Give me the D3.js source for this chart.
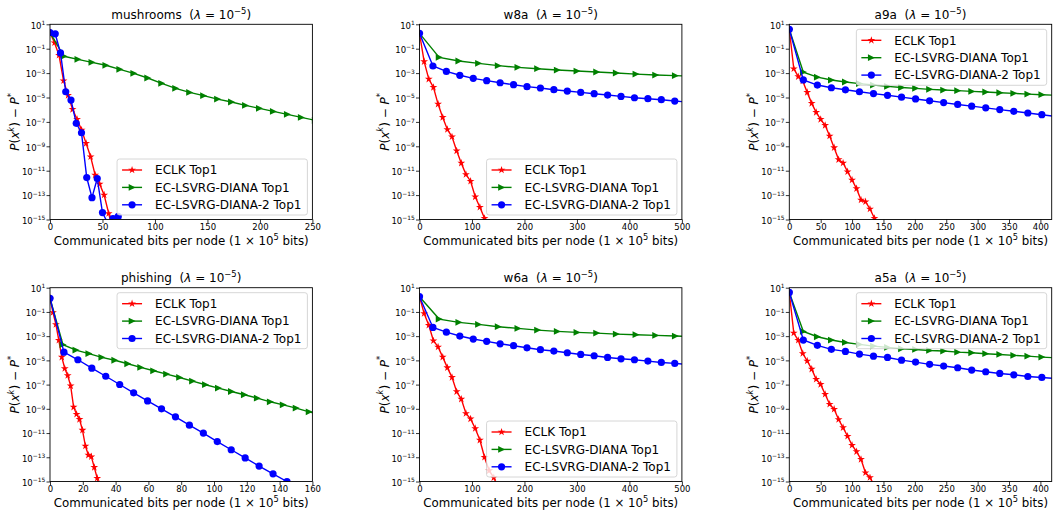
<!DOCTYPE html>
<html>
<head>
<meta charset="utf-8">
<script src="https://cdn.jsdelivr.net/npm/d3@7"></script>
<style>
    body { margin: 0; background: #fff; }
    svg { font-family: 'DejaVu Sans', sans-serif; }
    text { white-space: pre; }
</style>
</head>
<body>
<svg id="chart" width="1058" height="514"></svg>
<script>
// Series labels and colours
const seriesNames = ['ECLK Top1', 'EC-LSVRG-DIANA Top1', 'EC-LSVRG-DIANA-2 Top1'];
const seriesColors = ['#ff0000', '#008000', '#0000ff'];

// Tick values
const yTickExps = [1, -1, -3, -5, -7, -9, -11, -13, -15];
const ticks250 = [0, 50, 100, 150, 200, 250];
const ticks500 = [0, 100, 200, 300, 400, 500];
const ticks400 = [0, 50, 100, 150, 200, 250, 300, 350, 400];
const ticks160 = [0, 20, 40, 60, 80, 100, 120, 140, 160];

// Values are log10(P(x^k) - P*)
// mushrooms
const mushroomsEclkX = [0, 4.3, 8.6, 12.9, 17.2, 21.5, 25.8, 30.1, 34.4, 38.7, 43, 47.3, 51.6, 55.9, 60.2];
const mushroomsEclkLog = [0.32, -0.51, -1.54, -3.62, -4.82, -5.97, -6.79, -7.66, -8.76, -9.85, -11.35, -12.09, -12.99, -14.5, -16.0];
const mushroomsDianaX = [0, 13.3, 26.6, 39.9, 53.2, 66.5, 79.8, 93.1, 106.4, 119.7, 133, 146.3, 159.6, 172.9, 186.2, 199.5, 212.8, 226.1, 239.4, 252.7];
const mushroomsDianaLog = [0.32, -1.62, -1.87, -2.12, -2.36, -2.69, -3.02, -3.40, -3.84, -4.25, -4.58, -4.85, -5.13, -5.37, -5.65, -5.89, -6.14, -6.38, -6.63, -6.87];
const mushroomsDiana2X = [0, 5, 10, 15, 20, 25, 30, 35, 40, 45, 50, 55, 60, 65];
const mushroomsDiana2Log = [0.32, 0.22, -1.35, -4.53, -5.21, -7.12, -7.89, -11.56, -13.21, -11.64, -14.43, -15.3, -14.93, -14.75];

// w8a
const w8aEclkX = [0, 8.85, 17.7, 26.55, 35.4, 44.25, 53.1, 61.95, 70.8, 79.65, 88.5, 97.35, 106.2, 115.05, 123.9];
const w8aEclkLog = [0.26, -2.06, -3.49, -4.17, -5.54, -6.63, -7.62, -8.22, -9.37, -10.38, -11.31, -11.86, -13.14, -13.99, -14.9];
const w8aDianaX = [0, 37.5, 75, 112.5, 150, 187.5, 225, 262.5, 300, 337.5, 375, 412.5, 450, 487.5, 525];
const w8aDianaLog = [0.26, -1.71, -2.01, -2.20, -2.39, -2.53, -2.64, -2.75, -2.83, -2.91, -2.99, -3.08, -3.16, -3.21, -3.27];
const w8aDiana2X = [0, 25.6, 51.2, 76.8, 102.4, 128, 153.6, 179.2, 204.8, 230.4, 256, 281.6, 307.2, 332.8, 358.4, 384, 409.6, 435.2, 460.8, 486.4, 512];
const w8aDiana2Log = [0.26, -2.42, -2.86, -3.18, -3.43, -3.62, -3.79, -3.95, -4.11, -4.22, -4.36, -4.47, -4.58, -4.69, -4.80, -4.91, -5.02, -5.10, -5.18, -5.29, -5.38];

// a9a
const a9aEclkX = [0, 7.14, 14.28, 21.42, 28.56, 35.7, 42.84, 49.98, 57.12, 64.26, 71.4, 78.54, 85.68, 92.82, 99.96, 107.1, 114.24, 121.38, 128.52, 135.66, 142.8];
const a9aEclkLog = [0.59, -2.64, -3.29, -3.65, -4.58, -5.48, -6.22, -6.79, -7.28, -8.15, -9.11, -10.09, -10.37, -11.08, -11.76, -12.47, -13.40, -13.54, -14.14, -14.90, -15.8];
const a9aDianaX = [0, 22.35, 44.7, 67.05, 89.4, 111.75, 134.1, 156.45, 178.8, 201.15, 223.5, 245.85, 268.2, 290.55, 312.9, 335.25, 357.6, 379.95, 402.3, 424.65];
const a9aDianaLog = [0.59, -2.92, -3.33, -3.57, -3.73, -3.86, -3.98, -4.09, -4.18, -4.25, -4.33, -4.39, -4.44, -4.50, -4.55, -4.61, -4.66, -4.72, -4.77, -4.82];
const a9aDiana2X = [0, 22.35, 44.7, 67.05, 89.4, 111.75, 134.1, 156.45, 178.8, 201.15, 223.5, 245.85, 268.2, 290.55, 312.9, 335.25, 357.6, 379.95, 402.3, 424.65];
const a9aDiana2Log = [0.59, -3.56, -3.98, -4.2, -4.37, -4.53, -4.68, -4.82, -4.97, -5.12, -5.27, -5.42, -5.57, -5.71, -5.85, -5.99, -6.13, -6.27, -6.41, -6.55];

// phishing
const phishingEclkX = [0, 1.8, 3.6, 5.4, 7.2, 9, 10.8, 12.6, 14.4, 16.2, 18, 19.8, 21.6, 23.4, 25.2, 27, 28.8, 30.6];
const phishingEclkLog = [0.13, -1.04, -2.03, -3.34, -4.73, -5.67, -6.25, -7.1, -8.86, -9.44, -9.87, -10.76, -12.07, -12.82, -12.95, -13.83, -14.73, -15.7];
const phishingDianaX = [0, 7.9, 15.8, 23.7, 31.6, 39.5, 47.4, 55.3, 63.2, 71.1, 79, 86.9, 94.8, 102.7, 110.6, 118.5, 126.4, 134.3, 142.2, 150.1, 158, 165.9];
const phishingDianaLog = [0.13, -3.70, -4.15, -4.44, -4.75, -4.99, -5.28, -5.58, -5.86, -6.13, -6.41, -6.71, -7.01, -7.29, -7.57, -7.84, -8.12, -8.42, -8.67, -8.94, -9.25, -9.52];
const phishingDiana2X = [0, 8.5, 17, 25.5, 34, 42.5, 51, 59.5, 68, 76.5, 85, 93.5, 102, 110.5, 119, 127.5, 136, 144.5, 153];
const phishingDiana2Log = [0.13, -4.32, -4.95, -5.64, -6.31, -6.99, -7.68, -8.35, -9.0, -9.66, -10.35, -11.0, -11.7, -12.38, -13.05, -13.73, -14.37, -15.0, -15.7];

// w6a
const w6aEclkX = [0, 8.85, 17.7, 26.55, 35.4, 44.25, 53.1, 61.95, 70.8, 79.65, 88.5, 97.35, 106.2, 115.05, 123.9, 132.75, 141.6, 150.45];
const w6aEclkLog = [0.26, -1.13, -2.1, -3.38, -3.89, -4.73, -5.6, -6.4, -7.58, -8.2, -9.38, -9.83, -10.62, -11.58, -13.0, -14.1, -14.68, -15.6];
const w6aDianaX = [0, 37.5, 75, 112.5, 150, 187.5, 225, 262.5, 300, 337.5, 375, 412.5, 450, 487.5, 525];
const w6aDianaLog = [0.26, -1.59, -1.86, -2.03, -2.22, -2.36, -2.50, -2.61, -2.69, -2.75, -2.83, -2.88, -2.94, -2.99, -3.05];
const w6aDiana2X = [0, 25.6, 51.2, 76.8, 102.4, 128, 153.6, 179.2, 204.8, 230.4, 256, 281.6, 307.2, 332.8, 358.4, 384, 409.6, 435.2, 460.8, 486.4, 512];
const w6aDiana2Log = [0.26, -2.28, -2.67, -2.99, -3.24, -3.43, -3.63, -3.79, -3.96, -4.12, -4.23, -4.37, -4.51, -4.62, -4.76, -4.87, -4.95, -5.06, -5.17, -5.25, -5.33];

// a5a
const a5aEclkX = [0, 7.14, 14.28, 21.42, 28.56, 35.7, 42.84, 49.98, 57.12, 64.26, 71.4, 78.54, 85.68, 92.82, 99.96, 107.1, 114.24, 121.38, 128.52, 135.66];
const a5aEclkLog = [0.61, -2.74, -3.34, -4.43, -5.05, -5.72, -6.56, -6.98, -7.8, -8.62, -9.03, -9.88, -10.55, -11.26, -12.0, -12.53, -13.17, -14.28, -14.67, -15.4];
const a5aDianaX = [0, 22.35, 44.7, 67.05, 89.4, 111.75, 134.1, 156.45, 178.8, 201.15, 223.5, 245.85, 268.2, 290.55, 312.9, 335.25, 357.6, 379.95, 402.3, 424.65];
const a5aDianaLog = [0.61, -2.61, -3.05, -3.32, -3.52, -3.68, -3.82, -3.93, -4.04, -4.10, -4.18, -4.23, -4.32, -4.37, -4.45, -4.51, -4.59, -4.65, -4.73, -4.79];
const a5aDiana2X = [0, 22.35, 44.7, 67.05, 89.4, 111.75, 134.1, 156.45, 178.8, 201.15, 223.5, 245.85, 268.2, 290.55, 312.9, 335.25, 357.6, 379.95, 402.3, 424.65];
const a5aDiana2Log = [0.61, -3.32, -3.76, -4.09, -4.26, -4.48, -4.65, -4.76, -4.98, -5.14, -5.33, -5.47, -5.61, -5.80, -5.94, -6.08, -6.19, -6.33, -6.41, -6.50];

// Panel table built from the arrays above
const panels = [
    { name: 'mushrooms', xMax: 250, ticks: ticks250, legend: 'lower',
      series: [[mushroomsEclkX, mushroomsEclkLog], [mushroomsDianaX, mushroomsDianaLog], [mushroomsDiana2X, mushroomsDiana2Log]] },
    { name: 'w8a', xMax: 500, ticks: ticks500, legend: 'lower',
      series: [[w8aEclkX, w8aEclkLog], [w8aDianaX, w8aDianaLog], [w8aDiana2X, w8aDiana2Log]] },
    { name: 'a9a', xMax: 418, ticks: ticks400, legend: 'upper',
      series: [[a9aEclkX, a9aEclkLog], [a9aDianaX, a9aDianaLog], [a9aDiana2X, a9aDiana2Log]] },
    { name: 'phishing', xMax: 160, ticks: ticks160, legend: 'upper',
      series: [[phishingEclkX, phishingEclkLog], [phishingDianaX, phishingDianaLog], [phishingDiana2X, phishingDiana2Log]] },
    { name: 'w6a', xMax: 500, ticks: ticks500, legend: 'lower',
      series: [[w6aEclkX, w6aEclkLog], [w6aDianaX, w6aDianaLog], [w6aDiana2X, w6aDiana2Log]] },
    { name: 'a5a', xMax: 418, ticks: ticks400, legend: 'upper',
      series: [[a5aEclkX, a5aEclkLog], [a5aDianaX, a5aDianaLog], [a5aDiana2X, a5aDiana2Log]] }
];

// Layout of the 2x3 grid
const colLeft = [50, 419.5, 789.3];
const rowTop = [24.3, 287.7];
const rowHeight = [195.2, 193.8];
const axW = 262.4;

const svg = d3.select('#chart');

// Append mathtext-like parts (italic, superscript) into a text element
function addMath(textSel, parts, size) {
    let shift = 0;
    parts.forEach(p => {
        const ts = textSel.append('tspan').text(p.t);
        if (p.i) ts.attr('font-style', 'italic');
        if (p.sup) {
            const up = size * 0.42;
            ts.attr('font-size', size * 0.7).attr('dy', -up - shift);
            shift = -up;
        } else if (shift !== 0) {
            ts.attr('dy', -shift);
            shift = 0;
        }
    });
}

// Marker shapes
const starPath = d3.symbol().type(d3.symbolStar).size(19)();
const triPath = 'M3.6,0L-3.4,-3.4L-3.4,3.4Z';

function drawMarker(sel, idx, color) {
    if (idx === 0) {
        sel.append('path').attr('d', starPath).attr('fill', color);
    } else if (idx === 1) {
        sel.append('path').attr('d', triPath).attr('fill', color);
    } else {
        sel.append('circle').attr('r', 3.6).attr('fill', color);
    }
}

panels.forEach((p, pi) => {
    const row = Math.floor(pi / 3);
    const col = pi % 3;
    const w = axW;
    const h = rowHeight[row];
    const g = svg.append('g')
        .attr('transform', `translate(${colLeft[col]},${rowTop[row]})`);

    const x = d3.scaleLinear().domain([0, p.xMax]).range([0, w]);
    const y = d3.scaleLog().domain([1e-15, 1e1]).range([h, 0]);

    // Clip region for the data
    const clipId = 'clip' + pi;
    g.append('clipPath').attr('id', clipId)
        .append('rect').attr('width', w).attr('height', h);

    const plot = g.append('g').attr('clip-path', `url(#${clipId})`);

    // Lines and markers
    p.series.forEach((s, si) => {
        const pts = d3.zip(s[0], s[1].map(v => Math.pow(10, v)));
        const line = d3.line().x(d => x(d[0])).y(d => y(d[1]));
        plot.append('path')
            .attr('d', line(pts))
            .attr('fill', 'none')
            .attr('stroke', seriesColors[si])
            .attr('stroke-width', 1.4);
        const marks = plot.selectAll('.m' + si)
            .data(pts)
            .enter()
            .append('g')
            .attr('transform', d => `translate(${x(d[0])},${y(d[1])})`);
        drawMarker(marks, si, seriesColors[si]);
    });

    // X axis
    const xAxis = g.append('g')
        .attr('transform', `translate(0,${h})`)
        .call(d3.axisBottom(x).tickValues(p.ticks).tickSize(3.5).tickPadding(1).tickFormat(d3.format('d')));
    xAxis.select('.domain').remove();
    xAxis.selectAll('text').attr('font-size', 8.5).attr('font-family', 'DejaVu Sans').attr('fill', '#000');
    xAxis.selectAll('line').attr('stroke', '#000').attr('stroke-width', 0.8);

    // Y axis with 10^n labels
    const yAxis = g.append('g')
        .call(d3.axisLeft(y).tickValues(yTickExps.map(e => Math.pow(10, e))).tickSize(3.5).tickPadding(1.2).tickFormat(''));
    yAxis.select('.domain').remove();
    yAxis.selectAll('line').attr('stroke', '#000').attr('stroke-width', 0.8);
    yAxis.selectAll('.tick text').each(function(d) {
        const t = d3.select(this)
            .attr('font-size', 8.5)
            .attr('font-family', 'DejaVu Sans')
            .attr('fill', '#000')
            .attr('dy', '0.45em');
        const e = Math.round(Math.log10(d));
        addMath(t, [{ t: '10' }, { t: String(e).replace('-', '\u2212'), sup: true }], 8.5);
    });

    // Frame
    g.append('rect')
        .attr('width', w).attr('height', h)
        .attr('fill', 'none').attr('stroke', '#000').attr('stroke-width', 0.9);

    // Title
    const title = g.append('text')
        .attr('x', w / 2).attr('y', -5.5)
        .attr('text-anchor', 'middle')
        .attr('font-size', 12);
    addMath(title, [{ t: p.name + '  (' }, { t: '\u03bb', i: true }, { t: ' = 10' }, { t: '\u22125', sup: true }, { t: ')' }], 12);

    // X label
    const xl = g.append('text')
        .attr('x', w / 2).attr('y', h + 25.5)
        .attr('text-anchor', 'middle')
        .attr('font-size', 11.8);
    addMath(xl, [{ t: 'Communicated bits per node (1 \u00d7 10' }, { t: '5', sup: true }, { t: ' bits)' }], 11.8);

    // Y label
    const yl = g.append('text')
        .attr('transform', `translate(-31,${h / 2}) rotate(-90)`)
        .attr('text-anchor', 'middle')
        .attr('font-size', 12);
    addMath(yl, [{ t: 'P', i: true }, { t: '(' }, { t: 'x', i: true }, { t: 'k', i: true, sup: true },
        { t: ') \u2212 ' }, { t: 'P', i: true }, { t: '*', sup: true }], 12);

    // Legend
    const lg = g.append('g');
    const box = lg.append('rect')
        .attr('fill', '#fff').attr('fill-opacity', 0.8)
        .attr('stroke', '#cccccc').attr('stroke-width', 0.8)
        .attr('rx', 2.5);
    let maxW = 0;
    seriesNames.forEach((n, si) => {
        const cy = 11 + si * 17.4;
        lg.append('line')
            .attr('x1', 5).attr('x2', 25).attr('y1', cy).attr('y2', cy)
            .attr('stroke', seriesColors[si]).attr('stroke-width', 1.4);
        const m = lg.append('g').attr('transform', `translate(15,${cy})`);
        drawMarker(m, si, seriesColors[si]);
        const t = lg.append('text')
            .attr('x', 38).attr('y', cy + 4.3)
            .attr('font-size', 12)
            .text(n);
        maxW = Math.max(maxW, t.node().getComputedTextLength());
    });
    const boxW = 38 + maxW + 6;
    const boxH = 56;
    box.attr('width', boxW).attr('height', boxH);
    const lx = w - 5 - boxW;
    const ly = p.legend === 'lower' ? h - 4.5 - boxH : 5;
    lg.attr('transform', `translate(${lx},${ly})`);
});
</script>
</body>
</html>
